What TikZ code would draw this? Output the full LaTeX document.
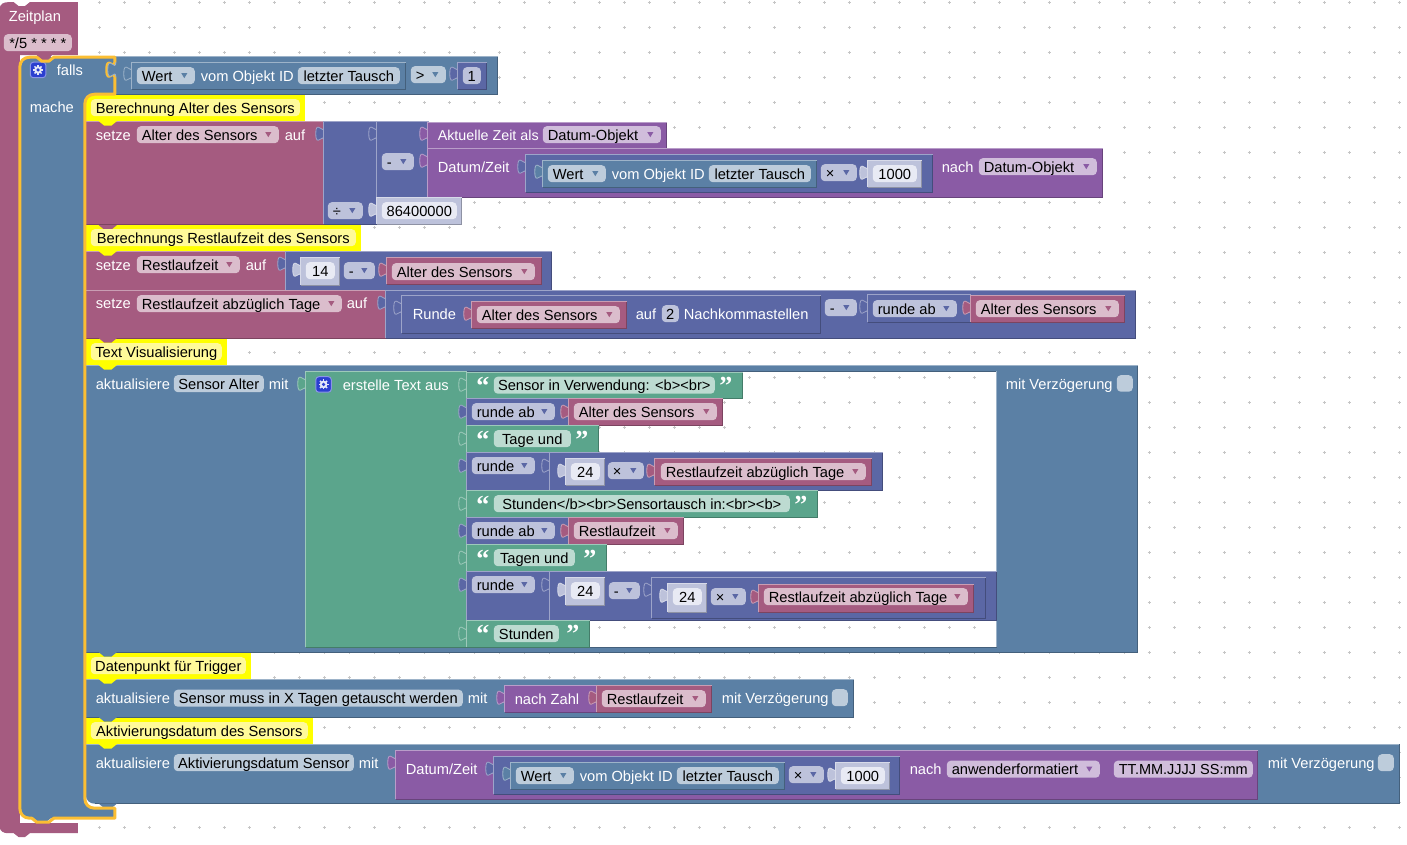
\documentclass[tikz,border=0pt]{standalone}
\usepackage{fontspec}
\setmainfont{Liberation Sans}
\newfontfamily\qfont{Liberation Serif}
\definecolor{cblue}{HTML}{5B80A5}
\definecolor{cmag}{HTML}{A55B80}
\definecolor{cmath}{HTML}{5B67A5}
\definecolor{cpur}{HTML}{8A5BA5}
\definecolor{cgrn}{HTML}{5BA58C}
\definecolor{cyel}{HTML}{FFFF00}
\definecolor{cshd}{HTML}{BDC2DB}
\definecolor{cwhf}{HTML}{E8EAF4}
\definecolor{chl}{HTML}{FBBE33}
\definecolor{gearb}{HTML}{2B3FD0}
\newcommand{\blk}[5]{%
  \fill[#5] (#1,#2) rectangle (#3,#4);
  \draw[edge,#5!75!black] (#3,#2) -- (#3,#4) -- (#1,#4);
  \draw[edge,#5!60!white] (#1,#4) -- (#1,#2) -- (#3,#2);}
\newcommand{\tb}[3]{%
  \fill[#3] (#1+0.5,#2) .. controls (#1,#2+10) and (#1-8,#2-8) .. (#1-8,#2+7.5) .. controls (#1-8,#2+23) and (#1,#2+5) .. (#1+0.5,#2+15) -- cycle;
  \draw[edge,#3!60!white] (#1,#2) .. controls (#1,#2+10) and (#1-8,#2-8) .. (#1-8,#2+7.5) .. controls (#1-8,#2+23) and (#1,#2+5) .. (#1,#2+15);}
\newcommand{\ntch}[3]{\fill[#3] (#1-9,#2) -- (#1-3.5,#2+4.5) -- (#1+3.5,#2+4.5) -- (#1+9,#2) -- cycle;}
\newcommand{\lb}[3]{\node[lab,text=white] at (#1,#2) {#3};}
% field with drop-down arrow: x1 x2 ytop text colour
\newcommand{\fa}[5]{%
  \fill[rounded corners=4,#5!40!white] (#1,#3) rectangle (#2,#3+17);
  \fill[#5] (#2-13.5,#3+6) -- (#2-7.5,#3+6) -- (#2-10.5,#3+11) -- cycle;
  \node[lab,text=black] at (#1+5,#3+14) {#4};}
% plain field, centred text: x1 x2 ytop text fillcolour
\newcommand{\fc}[5]{%
  \fill[rounded corners=4,#5] (#1,#3) rectangle (#2,#3+17);
  \node[cen,text=black] at ({(#1+#2)/2},#3+14) {#4};}
\newcommand{\num}[5]{% x1 y1 x2 y2 text
  \tb{#1}{#2+5}{cshd}\blk{#1}{#2}{#3}{#4}{cshd}
  \fc{#1+5}{#3-5}{#2+5}{#5}{cwhf}}
\newcommand{\gear}[2]{%
  \fill[rounded corners=3,fill=gearb,draw=gearb!55!white,line width=1] (#1,#2) rectangle (#1+15.5,#2+15.5);
  \foreach \a in {0,45,...,315}{\draw[gearb!12!white,line width=1.5] ($(#1+7.75,#2+7.75)+(\a:3)$) -- ($(#1+7.75,#2+7.75)+(\a:5)$);}
  \fill[gearb!12!white] (#1+7.75,#2+7.75) circle[radius=3.8];
  \fill[gearb] (#1+7.75,#2+7.75) circle[radius=1.8];}
\newcommand{\qq}[3]{% x of opening, x of closing, baseline
  \node[qt] at (#1,#3) {“};\node[qt] at (#2,#3) {”};}
\newcommand{\wert}[2]{% x y of blue "Wert" block (27 high), width 274
  \tb{#1}{#2+4}{cblue}\blk{#1}{#2}{#1+274}{#2+27}{cblue}
  \fa{#1+5}{#1+63}{#2+5}{Wert}{cblue}
  \lb{#1+69}{#2+19}{vom Objekt ID}
  \fc{#1+166}{#1+268}{#2+5}{letzter Tausch}{cblue!40!white}}
\usetikzlibrary{calc}
\tikzset{
  edge/.style={line width=.8},
  lab/.style={anchor=base west,inner sep=0,outer sep=0,font=\fontsize{14.67}{16}\selectfont},
  cen/.style={anchor=base,inner sep=0,outer sep=0,font=\fontsize{14.67}{16}\selectfont},
  qt/.style={anchor=base,inner sep=0,outer sep=0,text=white,font=\qfont\bfseries\fontsize{26}{26}\selectfont},
  hl/.style={draw=chl,line width=3,line join=round}
}
\begin{document}
\begin{tikzpicture}[x=1pt,y=-1pt]
\useasboundingbox (0,0) rectangle (1407,845);
\fill[white] (0,0) rectangle (1407,845);
% grid
\foreach \gx in {99,124,...,1399}\foreach \gy in {2.5,27.5,...,827.5}{
  \draw[gray!45,line width=.5] (\gx-1.5,\gy) -- (\gx+1.5,\gy) (\gx,\gy-1.5) -- (\gx,\gy+1.5);}
\begin{scope}[xshift=-0.2pt,yshift=-0.2pt]
% Zeitplan
\fill[cmag] (0,8) .. controls (0,4) and (4,2) .. (8,2) -- (14,2) -- (19,6) -- (25,6) -- (30,2) -- (78,2) -- (78,55) -- (20,55) -- (20,823) -- (78,823) -- (78,833) -- (30,833) -- (25,837) -- (19,837) -- (14,833) -- (8,833) .. controls (4,833) and (0,831) .. (0,827) -- cycle;
\lb{9}{21}{Zeitplan}
\fc{4}{72}{34}{*/5 * * * *}{cmag!40!white}
% falls
\fill[cblue] (20,67) .. controls (20,61) and (24,57) .. (30,57) -- (115,57) -- (115,94) -- (95,94) .. controls (89,94) and (85,98) .. (85,104) -- (85,798) .. controls (85,804) and (89,808) .. (95,808) -- (115,808) -- (115,818) -- (30,818) .. controls (24,818) and (20,814) .. (20,808) -- cycle;
\fill[cmag] (37,55) -- (40,60) -- (48,60) -- (52,55) -- cycle;
\gear{30.5}{62}
\lb{57}{75}{falls}
\lb{30}{112}{mache}
% condition
\tb{116}{62}{cblue}
\blk{116}{56}{498}{94}{cblue}
\wert{132}{62}
\fa{411}{446}{66}{>}{cblue}
\tb{458}{66}{cmath}\blk{458}{62}{487}{89}{cmath}
\fc{463}{481}{67}{1}{cmath!40!white}
% comment 1
\fill[cyel] (85,105) .. controls (85,99) and (89,95) .. (95,95) -- (305,95) -- (305,121) -- (85,121) -- cycle;
\fc{91}{300}{99}{Berechnung Alter des Sensors}{yellow!40!white}
% setze 1
\blk{86}{121}{324}{224}{cmag}
\ntch{108}{121}{cyel}
\lb{96}{140}{setze}
\fa{137}{279}{126}{Alter des Sensors}{cmag}
\lb{285}{140}{auf}
\tb{324}{126}{cmath}\blk{324}{121}{377}{224}{cmath}
\tb{377}{126}{cmath}\blk{377}{121}{429}{197}{cmath}
\tb{428}{126}{cpur}\blk{428}{122}{667}{148}{cpur}
\lb{438}{140}{\fontsize{14.3}{16}\selectfont Aktuelle Zeit als}
\fa{543}{661}{126}{Datum-Objekt}{cpur}
\fa{382}{414}{153}{-}{cmath}
\tb{428}{153}{cpur}\blk{428}{148}{1103}{197}{cpur}
\lb{438}{172}{Datum/Zeit}
\tb{526}{159}{cmath}\blk{526}{154}{933}{192}{cmath}
\wert{543}{160}
\fa{821}{857}{164}{×}{cmath}
\num{868}{160}{922}{187}{1000}
\lb{942}{172}{nach}
\fa{979}{1097}{158}{Datum-Objekt}{cpur}
\fa{328}{363}{202}{÷}{cmath}
\num{377}{197}{462}{224}{86400000}
% comment 2
\fill[cyel] (86,225) rectangle (361,251);
\ntch{108}{225}{cmag}
\fc{91}{356}{229}{Berechnungs Restlaufzeit des Sensors}{yellow!40!white}
% setze 2
\blk{86}{251}{286}{290}{cmag}
\ntch{108}{251}{cyel}
\lb{96}{270}{setze}
\fa{137}{240}{256}{Restlaufzeit}{cmag}
\lb{246}{270}{auf}
\tb{286}{256}{cmath}\blk{286}{251}{552}{290}{cmath}
\num{301}{257}{340}{285}{14}
\fa{344}{375}{262}{-}{cmath}
\tb{387}{262}{cmag}\blk{387}{257}{542}{284}{cmag}
\fa{392}{535}{263}{Alter des Sensors}{cmag}
% setze 3
\blk{86}{290}{386}{338}{cmag}
\lb{96}{308}{setze}
\fa{137}{342}{295}{Restlaufzeit abzüglich Tage}{cmag}
\lb{347}{308}{auf}
\tb{386}{295}{cmath}\blk{386}{290}{1136}{338}{cmath}
\tb{402}{300}{cmath}\blk{402}{295}{821}{333}{cmath}
\lb{413}{319}{Runde}
\tb{472}{306}{cmag}\blk{472}{301}{627}{328}{cmag}
\fa{477}{620}{306}{Alter des Sensors}{cmag}
\lb{636}{319}{auf}
\fc{662}{679}{305}{2}{cmath!40!white}
\lb{684}{319}{Nachkommastellen}
\fa{825}{857}{299}{-}{cmath}
\tb{868}{299}{cmath}\blk{868}{294}{971}{322}{cmath}
\fa{873}{957}{300}{runde ab}{cmath}
\tb{971}{300}{cmag}\blk{971}{295}{1125}{322}{cmag}
\fa{976}{1119}{300}{Alter des Sensors}{cmag}
% comment 3
\fill[cyel] (86,339) rectangle (227,365);
\ntch{108}{338}{cmag}
\fc{91}{222}{343}{Text Visualisierung}{yellow!40!white}
% aktualisiere 1
\fill[cblue,even odd rule] (86,365.5) rectangle (1138,652) (307,371) rectangle (997,647);
\draw[edge,cblue!60!white] (86,652) -- (86,365.5) -- (1138,365.5);
\draw[edge,cblue!75!black] (1138,365.5) -- (1138,652) -- (86,652);
\draw[edge,cblue!75!black] (997,647) -- (307,647) (307,371) -- (997,371);
\draw[edge,cblue!60!white] (997,371) -- (997,647);
\ntch{108}{365}{cyel}
\lb{96}{389}{aktualisiere}
\fc{174}{264}{375}{Sensor Alter}{cblue!40!white}
\lb{269}{389}{mit}
\lb{1006}{389}{mit Verzögerung}
\fill[rounded corners=4,cblue!40!white] (1117,375) rectangle (1133,391.5);
\tb{306}{376}{cgrn}\blk{306}{371}{467}{647}{cgrn}
\gear{316}{376.5}
\lb{343}{390}{erstelle Text aus}
% rows
\tb{467}{377}{cgrn}\blk{467}{372}{743}{398}{cgrn}
\qq{483}{726}{394}
\fc{494}{715}{376.5}{Sensor in Verwendung: <b><br>}{cgrn!40!white}
\tb{467}{404}{cmath}\blk{467}{398}{569}{425}{cmath}
\fa{472}{555}{403}{runde ab}{cmath}
\tb{569}{404}{cmag}\blk{569}{398}{723}{425}{cmag}
\fa{574}{717}{403}{Alter des Sensors}{cmag}
\tb{467}{431}{cgrn}\blk{467}{425.5}{599}{452}{cgrn}
\qq{483}{582}{448}
\fc{494}{571}{430}{Tage und}{cgrn!40!white}
\tb{467}{458}{cmath}\blk{467}{452}{550}{490}{cmath}
\fa{472}{535}{457}{runde}{cmath}
\tb{550}{458}{cmath}\blk{550}{452}{883}{490}{cmath}
\num{566}{458}{605}{485}{24}
\fa{608}{644}{462}{×}{cmath}
\tb{655}{463}{cmag}\blk{655}{458}{872}{485}{cmag}
\fa{661}{866}{463}{Restlaufzeit abzüglich Tage}{cmag}
\tb{467}{496}{cgrn}\blk{467}{490}{818}{517}{cgrn}
\qq{483}{801}{513}
\fc{494}{790}{495}{Stunden</b><br>Sensortausch in:<br><b>}{cgrn!40!white}
\tb{467}{523}{cmath}\blk{467}{517}{569}{544}{cmath}
\fa{472}{555}{522}{runde ab}{cmath}
\tb{569}{523}{cmag}\blk{569}{517}{684}{544}{cmag}
\fa{574}{678}{522}{Restlaufzeit}{cmag}
\tb{467}{550}{cgrn}\blk{467}{544.5}{607}{571}{cgrn}
\qq{483}{590}{567}
\fc{494}{575}{549}{Tagen und}{cgrn!40!white}
\tb{467}{577}{cmath}\blk{467}{571}{550}{620}{cmath}
\fa{472}{535}{576}{runde}{cmath}
\tb{550}{577}{cmath}\blk{550}{571}{997}{620}{cmath}
\num{566}{577}{605}{605}{24}
\fa{609}{640}{582}{-}{cmath}
\tb{652}{582}{cmath}\blk{652}{577}{986}{618}{cmath}
\num{668}{583}{707}{612}{24}
\fa{711}{746}{588}{×}{cmath}
\tb{759}{589}{cmag}\blk{759}{584}{974}{612}{cmag}
\fa{764}{968}{588}{Restlaufzeit abzüglich Tage}{cmag}
\tb{467}{626}{cgrn}\blk{467}{620}{590}{647}{cgrn}
\qq{483}{573}{642}
\fc{494}{559}{625}{Stunden}{cgrn!40!white}
% comment 4
\fill[cyel] (86,653) rectangle (251,679);
\ntch{108}{652}{cblue}
\fc{91}{246}{657}{Datenpunkt für Trigger}{yellow!40!white}
% aktualisiere 2
\blk{86}{679}{854}{717}{cblue}
\ntch{108}{679}{cyel}
\lb{96}{703}{aktualisiere}
\fc{174}{463}{689.5}{Sensor muss in X Tagen getauscht werden}{cblue!40!white}
\lb{468}{703}{mit}
\tb{505}{690}{cpur}\blk{505}{685}{597}{712}{cpur}
\lb{515}{704}{nach Zahl}
\tb{597}{690}{cmag}\blk{597}{685}{712}{712}{cmag}
\fa{602}{706}{690}{Restlaufzeit}{cmag}
\lb{722}{703}{mit Verzögerung}
\fill[rounded corners=4,cblue!40!white] (832,689) rectangle (848,706);
% comment 5
\fill[cyel] (86,718) rectangle (313,744);
\ntch{108}{717}{cblue}
\fc{91}{308}{722}{Aktivierungsdatum des Sensors}{yellow!40!white}
% aktualisiere 3
\fill[cblue] (86,744) -- (1399.5,744) -- (1399.5,803.5) -- (95,803.5) .. controls (90,803.5) and (86,800) .. (86,795) -- cycle;
\draw[edge,cblue!75!black] (1399.5,744) -- (1399.5,803.5) -- (95,803.5);
\draw[edge,cblue!60!white] (86,795) -- (86,744) -- (1399.5,744);
\ntch{108}{744}{cyel}
\ntch{108}{803.5}{cblue}
\lb{96}{768}{aktualisiere}
\fc{174}{354}{754}{Aktivierungsdatum Sensor}{cblue!40!white}
\lb{359}{768}{mit}
\tb{396}{755}{cpur}\blk{396}{750}{1258}{799}{cpur}
\lb{406}{774}{Datum/Zeit}
\tb{494}{761}{cmath}\blk{494}{756}{900}{794}{cmath}
\wert{511}{762}
\fa{789}{824}{766}{×}{cmath}
\num{836}{762}{890}{789}{1000}
\lb{910}{774}{nach}
\fa{947}{1100}{760.5}{anwenderformatiert}{cpur}
\fc{1114}{1253}{760.5}{\fontsize{14.5}{16}\selectfont TT.MM.JJJJ SS:mm}{cpur!40!white}
\lb{1268}{768}{mit Verzögerung}
\fill[rounded corners=4,cblue!40!white] (1378,754) rectangle (1394,771);
% falls highlight outline
\ntch{42}{818}{cblue}
\draw[hl] (20,67) .. controls (20,61) and (24,57) .. (30,57) -- (37,57) -- (42,61) -- (49,61) -- (54,57) -- (115,57) -- (115,62) .. controls (115,72) and (107,54) .. (107,69.5) .. controls (107,85) and (115,67) .. (115,77) -- (115,94) -- (95,94) .. controls (89,94) and (85,98) .. (85,104) -- (85,798) .. controls (85,804) and (89,808) .. (95,808) -- (115,808) -- (115,818) -- (54,818) -- (49,822) -- (37,822) -- (32,818) -- (30,818) .. controls (24,818) and (20,814) .. (20,808) -- cycle;
\tb{116}{62}{cblue}
\end{scope}
\end{tikzpicture}
\end{document}
